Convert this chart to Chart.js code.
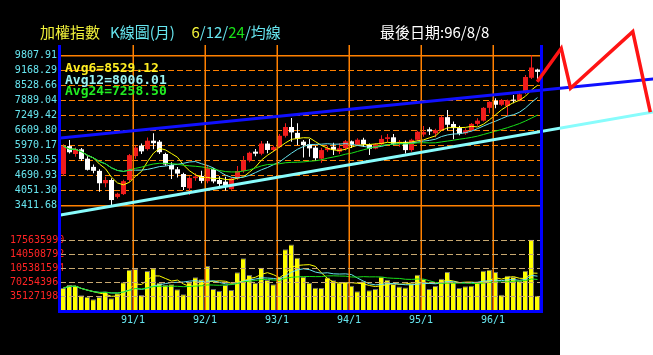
<!DOCTYPE html>
<html>
<head>
<meta charset="utf-8">
<script src="https://cdn.jsdelivr.net/npm/chart.js@4.4.1/dist/chart.umd.min.js"></script>
<style>
  html, body { margin: 0; padding: 0; background: #fff; }
  #wrap { position: relative; width: 653px; height: 355px; }
  #wrap canvas { position: absolute; left: 0; top: 0; }
</style>
</head>
<body>
<div id="wrap">
  <canvas id="main" width="653" height="355"></canvas>
  <canvas id="over" width="653" height="355"></canvas>
</div>
<script>
// TAIEX monthly K-line, 90/1 .. 96/8 (ROC years)
const yearTicks = ['91/1', '92/1', '93/1', '94/1', '95/1', '96/1'];
const yearTickMonth = [12, 24, 36, 48, 60, 72];
const priceTicks = [9807.91, 9168.29, 8528.66, 7889.04, 7249.42, 6609.80, 5970.17, 5330.55, 4690.93, 4051.30, 3411.68];
const volumeTicks = [175635990, 140508792, 105381594, 70254396, 35127198];
const avgLabels = ['Avg6=8529.12', 'Avg12=8006.01', 'Avg24=7258.50'];

const open = [
  4740, 5936, 5600, 5797, 5400, 5050, 4880, 4352, 4490, 3770, 3890, 4490,
  5510, 5960, 5810, 6167, 6125, 5600, 5130, 4947, 4745, 4135, 4570, 4660,
  4440, 4950, 4490, 4420, 4100, 4563, 4872, 5318, 5700, 5612, 6045, 5771,
  5891, 6375, 6751, 6500, 6125, 6013, 5870, 5400, 5766, 5910, 5700, 5845,
  6140, 5994, 6208, 5990, 5830, 6012, 6242, 6311, 6033, 6119, 5765, 6204,
  6430, 6650, 6480, 6600, 7171, 6878, 6704, 6480, 6611, 6884, 7021, 7567,
  7870, 7699, 7650, 7900, 7875, 8255, 8850, 9200
];
const high = [
  6010, 6200, 5880, 5850, 5500, 5150, 4950, 4630, 4560, 3950, 4500, 5600,
  5950, 6050, 6300, 6484, 6200, 5650, 5250, 5050, 4800, 4650, 4776, 4880,
  5130, 5000, 4650, 4630, 4600, 5085, 5514, 5700, 5810, 6150, 6150, 5960,
  6450, 6908, 7135, 6908, 6200, 6238, 5950, 5870, 5950, 6080, 6060, 6200,
  6180, 6270, 6290, 6050, 6060, 6400, 6450, 6450, 6200, 6180, 6250, 6590,
  6790, 6740, 6680, 7230, 7474, 6980, 6800, 6700, 6920, 7120, 7600, 7850,
  7975, 7940, 7920, 8110, 8200, 8968, 9807.91, 9230
];
const low = [
  4660, 5620, 5480, 5300, 4900, 4780, 3990, 4180, 3411.68, 3700, 3850, 4400,
  5400, 5600, 5750, 5800, 5600, 5100, 4535, 4600, 4063, 3850, 4460, 4350,
  4350, 4350, 4200, 4044, 4080, 4500, 4800, 5250, 5500, 5550, 5630, 5700,
  5850, 6300, 6125, 5983, 5450, 5480, 5320, 5230, 5700, 5560, 5600, 5750,
  5850, 5950, 5900, 5560, 5800, 5980, 6100, 5990, 5910, 5620, 5700, 6150,
  6335, 6410, 6310, 6580, 6610, 6232, 6400, 6420, 6560, 6800, 6980, 7340,
  7550, 7650, 7220, 7760, 7850, 8150, 8800, 8682
];
const close = [
  5936, 5674, 5797, 5381, 4924, 4883, 4352, 4490, 3636, 3903, 4441, 5551,
  5872, 5712, 6167, 6060, 5675, 5153, 4941, 4764, 4191, 4580, 4640, 4452,
  4990, 4430, 4322, 4250, 4555, 4872, 5318, 5650, 5612, 6045, 5771, 5891,
  6375, 6751, 6522, 6250, 5978, 5839, 5420, 5766, 5845, 5780, 5845, 6140,
  5994, 6208, 6005, 5819, 6012, 6242, 6311, 6033, 6119, 5765, 6204, 6548,
  6532, 6562, 6614, 7171, 6846, 6704, 6455, 6611, 6884, 7021, 7567, 7823,
  7699, 7901, 7884, 7875, 8145, 8883, 9287, 9101
];
const volume = [
  55200000, 63000000, 61000000, 37000000, 33000000, 27200000, 32600000, 46400000, 29700000, 42200000, 69800000, 100800000,
  102900000, 37600000, 97900000, 104500000, 68600000, 62700000, 64400000, 51900000, 39300000, 69400000, 82000000, 77000000,
  110400000, 52700000, 47700000, 62700000, 50200000, 94500000, 129600000, 87800000, 68600000, 106200000, 75300000, 64400000,
  82800000, 152600000, 164300000, 131300000, 83200000, 68600000, 55600000, 55400000, 81600000, 74800000, 68100000, 70200000,
  60900000, 46900000, 72400000, 49700000, 52700000, 83200000, 75700000, 65200000, 59000000, 56600000, 67300000, 88300000,
  77800000, 52700000, 60200000, 78600000, 95600000, 70300000, 55200000, 59400000, 61000000, 70300000, 98700000, 101200000,
  95400000, 38500000, 86100000, 82800000, 73600000, 98700000, 176500000, 36000000
];

// hand-drawn lines: [month index, price]
const trendUpper = [[-0.5, 6281], [98.3, 8797]];
const trendLower = [[-0.5, 2998], [98.3, 7390]];
const sketch = [[78.95, 8682], [82.95, 10106], [84.5, 8401], [94.88, 10814], [97.8, 7382]];

// scale ranges (price and volume share one plot area)
const X_MIN = -0.5833, X_MAX = 79.4167;
const PRICE_MIN = -1052.9, PRICE_MAX = 10247.1;
const VOL_MAX = 664907677;

const RED = '#f01c1c', WHITE = '#ffffff';
const YELLOW = '#ffff00', CYAN = '#66e4ee', GREEN = '#18e018';
const ORANGE = '#ff8000';
const MONO = '"DejaVu Sans Mono", monospace';
const CJK = '"Noto Sans CJK TC", sans-serif';

function movingAvg(src, n) {
  return src.map((_, i) => {
    const win = src.slice(Math.max(0, i - n + 1), i + 1);
    return win.reduce((a, b) => a + b, 0) / win.length;
  });
}

const idx = close.map((_, i) => i);
const candleColor = idx.map(i => close[i] >= open[i] ? RED : WHITE);
const pts = arr => arr.map((v, i) => ({ x: i, y: v }));

function maLine(values, n, color, axis) {
  return {
    type: 'line', yAxisID: axis, data: pts(movingAvg(values, n)),
    borderColor: color, borderWidth: 1, pointRadius: 0, tension: 0, order: 1
  };
}

const isEdgeTick = c => c.index === 0 || c.index === priceTicks.length - 1;

const backdrop = {
  id: 'backdrop',
  beforeDraw(chart) {
    const c = chart.ctx;
    c.save();
    c.fillStyle = '#000';
    c.fillRect(0, 0, 560, chart.height);
    c.restore();
  },
  // year separators run through both panels, above the bars
  afterDatasetsDraw(chart) {
    const c = chart.ctx, xs = chart.scales.x, area = chart.chartArea;
    c.save();
    c.strokeStyle = ORANGE;
    c.lineWidth = 1.5;
    yearTickMonth.forEach(m => {
      const px = Math.round(xs.getPixelForValue(m - 0.4)) + 0.25;
      c.beginPath();
      c.moveTo(px, area.top);
      c.lineTo(px, area.bottom);
      c.stroke();
    });
    c.restore();
  }
};

new Chart(document.getElementById('main'), {
  type: 'bar',
  data: {
    datasets: [
      { type: 'bar', yAxisID: 'y', data: idx.map(i => ({ x: i, y: [low[i], high[i]] })),
        backgroundColor: candleColor, barThickness: 1, grouped: false, inflateAmount: 0, order: 3 },
      { type: 'bar', yAxisID: 'y', data: idx.map(i => ({ x: i, y: [open[i], close[i]] })),
        backgroundColor: candleColor, barThickness: 5, minBarLength: 1, grouped: false, inflateAmount: 0, order: 2 },
      maLine(close, 24, GREEN, 'y'),
      maLine(close, 12, CYAN, 'y'),
      maLine(close, 6, YELLOW, 'y'),
      { type: 'bar', yAxisID: 'yv', data: pts(volume),
        backgroundColor: '#ffff00', borderColor: '#6c6c6c',
        borderWidth: { top: 1, right: 1, left: 0, bottom: 0 },
        barThickness: 5, grouped: false, inflateAmount: 0, order: 3 },
      maLine(volume, 24, GREEN, 'yv'),
      maLine(volume, 12, CYAN, 'yv'),
      maLine(volume, 6, YELLOW, 'yv')
    ]
  },
  options: {
    responsive: false,
    animation: false,
    devicePixelRatio: 1,
    events: [],
    layout: { padding: { left: 0, right: 113, top: 45, bottom: 0 } },
    plugins: { legend: { display: false }, tooltip: { enabled: false } },
    scales: {
      x: {
        type: 'linear', position: 'bottom', min: X_MIN, max: X_MAX, offset: false,
        afterFit: s => { s.height = 45; },
        afterBuildTicks: s => { s.ticks = yearTickMonth.map(m => ({ value: m - 0.4 })); },
        ticks: { color: CYAN, font: { family: MONO, size: 10 }, padding: 4,
                 autoSkip: false, maxRotation: 0, callback: (v, i) => yearTicks[i] },
        grid: { display: false, drawTicks: false },
        border: { display: false }
      },
      y: {
        type: 'linear', position: 'left', weight: 0, min: PRICE_MIN, max: PRICE_MAX,
        afterFit: s => { s.width = 60; },
        afterBuildTicks: s => { s.ticks = priceTicks.map(v => ({ value: v })); },
        ticks: { color: CYAN, font: { family: MONO, size: 10 }, padding: 3,
                 callback: v => v.toFixed(2) },
        grid: { color: ORANGE, lineWidth: c => isEdgeTick(c) ? 1.5 : 1, drawTicks: false },
        border: { display: false, dash: c => isEdgeTick(c) ? [] : [6, 3] }
      },
      yv: {
        type: 'linear', position: 'left', weight: 1, min: 0, max: VOL_MAX,
        afterFit: s => { s.width = 0; },
        afterBuildTicks: s => { s.ticks = volumeTicks.map(v => ({ value: v })); },
        ticks: { mirror: true, padding: 10, color: '#ff2424', font: { family: MONO, size: 10 },
                 callback: v => String(Math.round(v)) },
        grid: { color: '#c8a870', lineWidth: 1, drawTicks: false, z: 1 },
        border: { display: false, dash: [6, 3] }
      }
    }
  },
  plugins: [backdrop]
});

// overlay: trend lines + sketch run past the plot into the white margin
const frameAndText = {
  id: 'frameAndText',
  beforeDatasetDraw(chart, args) {
    if (args.index !== 0) return;
    const c = chart.ctx;
    c.save();
    c.fillStyle = '#0000ff';
    c.fillRect(58, 45, 3, 268);
    c.fillRect(540, 45, 3, 268);
    c.fillRect(58, 310, 485, 3);
    c.restore();
  },
  afterDraw(chart) {
    const c = chart.ctx;
    c.save();
    c.textBaseline = 'alphabetic';
    c.font = '15px ' + CJK;
    c.fillStyle = '#f2f23a';
    c.fillText('加權指數', 40, 37.5);
    c.fillStyle = CYAN;
    c.fillText('K線圖(月)', 110, 37.5);
    let x = 191.5;
    [['6', '#f2f23a'], ['/12/', CYAN], ['24', GREEN], ['/均線', CYAN]].forEach(([t, col]) => {
      c.fillStyle = col;
      c.fillText(t, x, 37.5);
      x += c.measureText(t).width;
    });
    c.fillStyle = '#ffffff';
    c.fillText('最後日期:96/8/8', 380, 37.5);

    c.font = 'bold 13px ' + MONO;
    const cols = ['#ffee22', '#9af4f4', '#22ee22'];
    avgLabels.forEach((t, k) => {
      c.fillStyle = cols[k];
      c.fillText(t, 65, 72 + k * 11.7);
    });
    c.restore();
  }
};

const xy = arr => arr.map(([x, y]) => ({ x, y }));

new Chart(document.getElementById('over'), {
  type: 'line',
  data: {
    datasets: [
      { data: xy(sketch), borderColor: '#ff1414', borderWidth: 3.5, pointRadius: 0, clip: false, order: 0 },
      { data: xy(trendUpper), borderColor: '#1010ff', borderWidth: 3, pointRadius: 0, order: 1 },
      { data: xy(trendLower), borderColor: '#88fcfc', borderWidth: 3, pointRadius: 0, order: 1 }
    ]
  },
  options: {
    responsive: false,
    animation: false,
    devicePixelRatio: 1,
    events: [],
    layout: { padding: { left: 60, right: 0, top: 45, bottom: 45 } },
    plugins: { legend: { display: false }, tooltip: { enabled: false } },
    scales: {
      x: { type: 'linear', display: false, min: X_MIN, max: X_MIN + 593 / 6 },
      y: { type: 'linear', display: false, min: PRICE_MIN, max: PRICE_MAX }
    }
  },
  plugins: [frameAndText]
});
</script>
</body>
</html>
